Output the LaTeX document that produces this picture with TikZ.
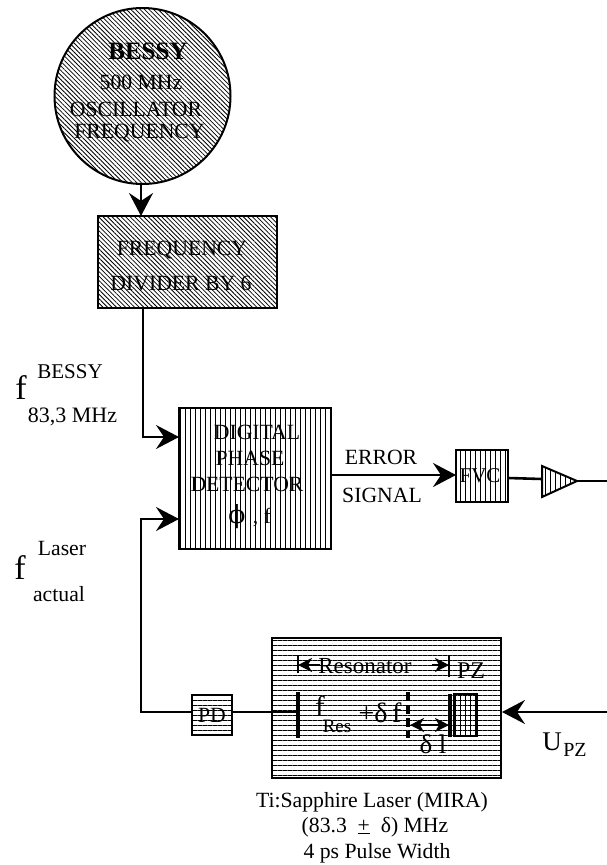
\documentclass[tikz,border=0pt]{standalone}
\usepackage{fontspec}
\setmainfont{Liberation Serif}
\newfontfamily\symfont{DejaVu Serif}
\usetikzlibrary{patterns.meta,arrows.meta}
\newcommand{\fsz}[1]{\fontsize{#1}{#1}\selectfont}
\tikzset{
  x=1pt,y=-1pt,
  hatchA/.style={draw,line width=2pt,pattern={Lines[angle=-45,distance=3.2pt,line width=.8pt]},inner sep=0pt},
  hatchV/.style={draw,line width=2pt,pattern={Lines[angle=90,distance=5pt,line width=.8pt]},inner sep=0pt},
  hatchH/.style={draw,line width=2pt,pattern={Lines[angle=0,distance=5pt,line width=.8pt]},inner sep=0pt},
  wire/.style={line width=1.8pt},
  heavy/.style={line width=2.6pt},
  head/.style={-{Stealth[length=23pt,width=24pt,inset=8pt]}},
  lbl/.style={inner sep=0pt,font=\fsz{21.7},align=center},
  mirror/.style={line width=3.2pt},
  tick/.style={line width=1.6pt},
  smallhead/.style={-{Stealth[length=14pt,width=14pt,inset=4pt]},line width=1.4pt},
}
\begin{document}
\begin{tikzpicture}
\useasboundingbox (0,0) rectangle (607,865);
% main shapes
\node[hatchA,circle,minimum size=176pt] (bessy) at (142.5,96) {};
\node[hatchA,rectangle,minimum width=179pt,minimum height=92pt] (div) at (187.5,262) {};
\node[hatchV,rectangle,minimum width=152pt,minimum height=141pt] (det) at (255,478.5) {};
\node[hatchV,rectangle,minimum width=52pt,minimum height=52pt] (fvc) at (482,476) {};
\node[hatchH,rectangle,minimum width=229pt,minimum height=140pt] (laser) at (386.5,708) {};
\node[hatchH,rectangle,minimum width=40pt,minimum height=40pt] (pd) at (212,715) {};
\node[hatchV,rectangle,minimum width=23pt,minimum height=42pt] (pz) at (465.5,715) {};
% amplifier triangle
\coordinate (trin) at (542,479);
\coordinate (trout) at (577,481);
\coordinate (rightA) at (607,481);
\coordinate (rightB) at (607,712);
\draw[hatchV,line join=miter] (542,466) -- (577,481) -- (542,497) -- cycle;
% connection points
\coordinate (topin) at (141,216);
\coordinate (topout) at (141,184);
\coordinate (divout) at (143,308);
\coordinate (detA) at (179,437);
\coordinate (detB) at (179,519);
\coordinate (detO) at (331,475);
\coordinate (fvcI) at (456,475);
\coordinate (fvcO) at (508,478);
\coordinate (lasR) at (502,712);
\coordinate (pdL) at (192,712);
\coordinate (pdR) at (232,712);
\coordinate (mirrL) at (298,712);
% connectors
\draw[wire,head] (topout) -- (topin);
\draw[wire,head] (divout) |- (detA);
\draw[wire,head] (pdL) -| (141,519) -- (detB);
\draw[heavy,head] (detO) -- (fvcI);
\draw[heavy] (fvcO) -- (trin);
\draw[wire] (trout) -- (rightA);
\draw[heavy,head] (rightB) -- (lasR);
\draw[wire] (pdR) -- (mirrL);
% resonator details
\draw[mirror] (298,692) -- (298,738);
\draw[mirror,line width=3.5pt,dash pattern=on 9pt off 4pt] (408,692) -- (408,738);
\draw[mirror] (450,694) -- (450,737);
\draw[tick] (298,655) -- (298,673);
\draw[tick] (449,655) -- (449,677);
\coordinate (resL) at (298,665);
\coordinate (resLb) at (320,665);
\coordinate (resR) at (449,665);
\coordinate (resRb) at (432,665);
\draw[smallhead] (resLb) -- (resL);
\draw[smallhead] (resRb) -- (resR);
\coordinate (dlL) at (410,725);
\coordinate (dlR) at (449,725);
\draw[{Stealth[length=14pt,width=14pt,inset=4pt]}-{Stealth[length=14pt,width=14pt,inset=4pt]},line width=1.4pt] (dlL) -- (dlR);
% text
\node[lbl,font=\fsz{25}\bfseries] (t1) at (148,51) {BESSY};
\node[lbl] (t2) at (141,82) {500 MHz};
\node[lbl] (t3) at (136,109) {OSCILLATOR};
\node[lbl] (t4) at (139.5,133) {FREQUENCY};
\node[lbl] (t5) at (182,250) {FREQUENCY};
\node[lbl] (t6) at (181,283) {DIVIDER BY 6};
\node[lbl] (t7) at (257,432) {DIGITAL};
\node[lbl] (t8) at (250,458) {PHASE};
\node[lbl] (t9) at (247,484) {DETECTOR};
\node[lbl,font=\fsz{25}\symfont] (t10) at (237,517) {ϕ};
\node[lbl] (t11) at (262,518) {, f};
\node[lbl] (t12) at (381,457) {ERROR};
\node[lbl] (t13) at (382,495) {SIGNAL};
\node[lbl,font=\fsz{21}] (t14) at (480,476) {FVC};
\node[lbl,font=\fsz{34}] (t15) at (21,388) {f};
\node[lbl,font=\fsz{21}] (t16) at (70,372) {BESSY};
\node[lbl,font=\fsz{22}] (t17) at (72.5,417) {83,3 MHz};
\node[lbl,font=\fsz{34}] (t18) at (20,568) {f};
\node[lbl] (t19) at (62,548) {Laser};
\node[lbl] (t20) at (59,594) {actual};
\node[lbl] (t21) at (212,715) {PD};
\node[lbl,font=\fsz{23}] (t22) at (365,666) {Resonator};
\node[lbl,font=\fsz{24}] (t23) at (471,671) {PZ};
\node[lbl,font=\fsz{29}] (t24) at (320,706) {f};
\node[lbl,font=\fsz{19}] (t25) at (337,726) {Res};
\node[lbl,font=\fsz{28}] (t26) at (380,713) {+δ\,f};
\node[lbl,font=\fsz{27}] (t27) at (433,744) {δ l};
\node[lbl,font=\fsz{27}] (t28) at (552,742) {U};
\node[lbl,font=\fsz{20}] (t29) at (575,750) {PZ};
\node[lbl] (t30) at (372,802) {Ti:Sapphire Laser (MIRA)};
\node[lbl] (t31) at (375,827) {(83.3\ \ \underline{+}\ \ δ) MHz};
\node[lbl] (t32) at (377,853) {4 ps Pulse Width};
\end{tikzpicture}
\end{document}
